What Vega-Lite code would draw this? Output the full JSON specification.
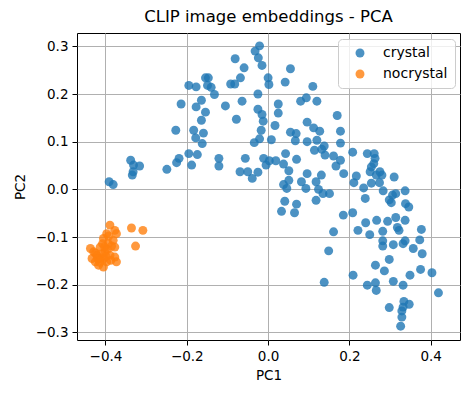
{
  "$schema": "https://vega.github.io/schema/vega-lite/v6.json",
  "width": 383,
  "height": 307,
  "autosize": {"type": "none"},
  "padding": {"left": 77, "top": 33, "right": 10, "bottom": 53},
  "background": "white",
  "title": {"text": "CLIP image embeddings - PCA", "fontSize": 16.5, "fontWeight": "normal", "font": "DejaVu Sans", "color": "black", "offset": 8},
  "config": {
    "font": "DejaVu Sans",
    "view": {"stroke": "black", "strokeWidth": 1},
    "axis": {"gridColor": "#b0b0b0", "gridWidth": 1, "gridOpacity": 1, "domain": false, "tickColor": "black", "tickSize": 5, "labelFontSize": 13.5, "labelColor": "black", "titleFontSize": 13.5, "titleFontWeight": "normal", "titleColor": "black", "labelPadding": 4}
  },
  "data": {"values": [
    {"pc1": -0.195, "pc2": 0.218, "label": "crystal"},
    {"pc1": -0.177, "pc2": 0.215, "label": "crystal"},
    {"pc1": -0.214, "pc2": 0.179, "label": "crystal"},
    {"pc1": -0.177, "pc2": 0.173, "label": "crystal"},
    {"pc1": -0.164, "pc2": 0.187, "label": "crystal"},
    {"pc1": -0.154, "pc2": 0.162, "label": "crystal"},
    {"pc1": -0.164, "pc2": 0.145, "label": "crystal"},
    {"pc1": -0.227, "pc2": 0.124, "label": "crystal"},
    {"pc1": -0.183, "pc2": 0.124, "label": "crystal"},
    {"pc1": -0.178, "pc2": 0.108, "label": "crystal"},
    {"pc1": -0.159, "pc2": 0.118, "label": "crystal"},
    {"pc1": -0.154, "pc2": 0.234, "label": "crystal"},
    {"pc1": -0.021, "pc2": 0.301, "label": "crystal"},
    {"pc1": -0.032, "pc2": 0.290, "label": "crystal"},
    {"pc1": -0.024, "pc2": 0.276, "label": "crystal"},
    {"pc1": -0.015, "pc2": 0.260, "label": "crystal"},
    {"pc1": -0.081, "pc2": 0.274, "label": "crystal"},
    {"pc1": -0.059, "pc2": 0.255, "label": "crystal"},
    {"pc1": 0.055, "pc2": 0.253, "label": "crystal"},
    {"pc1": -0.068, "pc2": 0.234, "label": "crystal"},
    {"pc1": 0.000, "pc2": 0.234, "label": "crystal"},
    {"pc1": 0.002, "pc2": 0.220, "label": "crystal"},
    {"pc1": 0.042, "pc2": 0.225, "label": "crystal"},
    {"pc1": -0.147, "pc2": 0.234, "label": "crystal"},
    {"pc1": -0.092, "pc2": 0.221, "label": "crystal"},
    {"pc1": -0.082, "pc2": 0.221, "label": "crystal"},
    {"pc1": -0.149, "pc2": 0.218, "label": "crystal"},
    {"pc1": -0.140, "pc2": 0.214, "label": "crystal"},
    {"pc1": -0.132, "pc2": 0.199, "label": "crystal"},
    {"pc1": -0.025, "pc2": 0.200, "label": "crystal"},
    {"pc1": 0.110, "pc2": 0.216, "label": "crystal"},
    {"pc1": 0.094, "pc2": 0.192, "label": "crystal"},
    {"pc1": 0.080, "pc2": 0.185, "label": "crystal"},
    {"pc1": 0.120, "pc2": 0.185, "label": "crystal"},
    {"pc1": -0.105, "pc2": 0.175, "label": "crystal"},
    {"pc1": -0.064, "pc2": 0.185, "label": "crystal"},
    {"pc1": 0.025, "pc2": 0.179, "label": "crystal"},
    {"pc1": -0.025, "pc2": 0.168, "label": "crystal"},
    {"pc1": -0.015, "pc2": 0.157, "label": "crystal"},
    {"pc1": 0.025, "pc2": 0.160, "label": "crystal"},
    {"pc1": -0.078, "pc2": 0.147, "label": "crystal"},
    {"pc1": -0.012, "pc2": 0.143, "label": "crystal"},
    {"pc1": 0.017, "pc2": 0.134, "label": "crystal"},
    {"pc1": 0.096, "pc2": 0.141, "label": "crystal"},
    {"pc1": 0.055, "pc2": 0.120, "label": "crystal"},
    {"pc1": 0.069, "pc2": 0.117, "label": "crystal"},
    {"pc1": 0.112, "pc2": 0.129, "label": "crystal"},
    {"pc1": 0.127, "pc2": 0.122, "label": "crystal"},
    {"pc1": -0.017, "pc2": 0.124, "label": "crystal"},
    {"pc1": -0.021, "pc2": 0.106, "label": "crystal"},
    {"pc1": 0.008, "pc2": 0.104, "label": "crystal"},
    {"pc1": -0.034, "pc2": 0.098, "label": "crystal"},
    {"pc1": 0.067, "pc2": 0.102, "label": "crystal"},
    {"pc1": 0.096, "pc2": 0.100, "label": "crystal"},
    {"pc1": 0.120, "pc2": 0.103, "label": "crystal"},
    {"pc1": 0.138, "pc2": 0.091, "label": "crystal"},
    {"pc1": 0.170, "pc2": 0.155, "label": "crystal"},
    {"pc1": 0.178, "pc2": 0.122, "label": "crystal"},
    {"pc1": 0.178, "pc2": 0.097, "label": "crystal"},
    {"pc1": -0.338, "pc2": 0.061, "label": "crystal"},
    {"pc1": -0.331, "pc2": 0.051, "label": "crystal"},
    {"pc1": -0.316, "pc2": 0.049, "label": "crystal"},
    {"pc1": -0.332, "pc2": 0.037, "label": "crystal"},
    {"pc1": -0.334, "pc2": 0.030, "label": "crystal"},
    {"pc1": -0.391, "pc2": 0.016, "label": "crystal"},
    {"pc1": -0.381, "pc2": 0.010, "label": "crystal"},
    {"pc1": -0.249, "pc2": 0.042, "label": "crystal"},
    {"pc1": -0.225, "pc2": 0.056, "label": "crystal"},
    {"pc1": -0.219, "pc2": 0.065, "label": "crystal"},
    {"pc1": -0.195, "pc2": 0.075, "label": "crystal"},
    {"pc1": -0.174, "pc2": 0.073, "label": "crystal"},
    {"pc1": -0.188, "pc2": 0.051, "label": "crystal"},
    {"pc1": -0.162, "pc2": 0.096, "label": "crystal"},
    {"pc1": -0.121, "pc2": 0.065, "label": "crystal"},
    {"pc1": -0.121, "pc2": 0.049, "label": "crystal"},
    {"pc1": -0.056, "pc2": 0.065, "label": "crystal"},
    {"pc1": -0.069, "pc2": 0.037, "label": "crystal"},
    {"pc1": -0.050, "pc2": 0.037, "label": "crystal"},
    {"pc1": -0.039, "pc2": 0.023, "label": "crystal"},
    {"pc1": -0.025, "pc2": 0.036, "label": "crystal"},
    {"pc1": -0.011, "pc2": 0.065, "label": "crystal"},
    {"pc1": -0.005, "pc2": 0.051, "label": "crystal"},
    {"pc1": 0.003, "pc2": 0.060, "label": "crystal"},
    {"pc1": 0.019, "pc2": 0.060, "label": "crystal"},
    {"pc1": 0.043, "pc2": 0.075, "label": "crystal"},
    {"pc1": 0.070, "pc2": 0.063, "label": "crystal"},
    {"pc1": 0.038, "pc2": 0.053, "label": "crystal"},
    {"pc1": 0.051, "pc2": 0.039, "label": "crystal"},
    {"pc1": 0.096, "pc2": 0.033, "label": "crystal"},
    {"pc1": 0.131, "pc2": 0.030, "label": "crystal"},
    {"pc1": 0.051, "pc2": 0.019, "label": "crystal"},
    {"pc1": 0.038, "pc2": 0.010, "label": "crystal"},
    {"pc1": 0.046, "pc2": 0.002, "label": "crystal"},
    {"pc1": 0.082, "pc2": 0.016, "label": "crystal"},
    {"pc1": 0.093, "pc2": 0.002, "label": "crystal"},
    {"pc1": 0.118, "pc2": 0.016, "label": "crystal"},
    {"pc1": 0.124, "pc2": 0.000, "label": "crystal"},
    {"pc1": 0.135, "pc2": -0.009, "label": "crystal"},
    {"pc1": 0.118, "pc2": -0.023, "label": "crystal"},
    {"pc1": 0.041, "pc2": -0.025, "label": "crystal"},
    {"pc1": 0.070, "pc2": -0.031, "label": "crystal"},
    {"pc1": 0.033, "pc2": -0.046, "label": "crystal"},
    {"pc1": 0.065, "pc2": -0.049, "label": "crystal"},
    {"pc1": 0.114, "pc2": 0.082, "label": "crystal"},
    {"pc1": 0.132, "pc2": 0.084, "label": "crystal"},
    {"pc1": 0.140, "pc2": 0.072, "label": "crystal"},
    {"pc1": 0.161, "pc2": 0.070, "label": "crystal"},
    {"pc1": 0.178, "pc2": 0.061, "label": "crystal"},
    {"pc1": 0.167, "pc2": 0.049, "label": "crystal"},
    {"pc1": 0.208, "pc2": 0.078, "label": "crystal"},
    {"pc1": 0.244, "pc2": 0.075, "label": "crystal"},
    {"pc1": 0.261, "pc2": 0.075, "label": "crystal"},
    {"pc1": 0.263, "pc2": 0.065, "label": "crystal"},
    {"pc1": 0.260, "pc2": 0.054, "label": "crystal"},
    {"pc1": 0.254, "pc2": 0.047, "label": "crystal"},
    {"pc1": 0.251, "pc2": 0.037, "label": "crystal"},
    {"pc1": 0.275, "pc2": 0.037, "label": "crystal"},
    {"pc1": 0.280, "pc2": 0.030, "label": "crystal"},
    {"pc1": 0.266, "pc2": 0.030, "label": "crystal"},
    {"pc1": 0.217, "pc2": 0.028, "label": "crystal"},
    {"pc1": 0.211, "pc2": 0.014, "label": "crystal"},
    {"pc1": 0.186, "pc2": 0.033, "label": "crystal"},
    {"pc1": 0.254, "pc2": 0.013, "label": "crystal"},
    {"pc1": 0.274, "pc2": 0.014, "label": "crystal"},
    {"pc1": 0.310, "pc2": 0.026, "label": "crystal"},
    {"pc1": 0.235, "pc2": 0.003, "label": "crystal"},
    {"pc1": 0.283, "pc2": -0.003, "label": "crystal"},
    {"pc1": 0.337, "pc2": -0.003, "label": "crystal"},
    {"pc1": 0.151, "pc2": -0.009, "label": "crystal"},
    {"pc1": 0.239, "pc2": -0.019, "label": "crystal"},
    {"pc1": 0.306, "pc2": -0.012, "label": "crystal"},
    {"pc1": 0.314, "pc2": -0.009, "label": "crystal"},
    {"pc1": 0.298, "pc2": -0.022, "label": "crystal"},
    {"pc1": 0.303, "pc2": -0.028, "label": "crystal"},
    {"pc1": 0.338, "pc2": -0.030, "label": "crystal"},
    {"pc1": 0.346, "pc2": -0.037, "label": "crystal"},
    {"pc1": 0.208, "pc2": -0.049, "label": "crystal"},
    {"pc1": 0.185, "pc2": -0.054, "label": "crystal"},
    {"pc1": 0.314, "pc2": -0.059, "label": "crystal"},
    {"pc1": 0.267, "pc2": -0.065, "label": "crystal"},
    {"pc1": 0.294, "pc2": -0.067, "label": "crystal"},
    {"pc1": 0.337, "pc2": -0.065, "label": "crystal"},
    {"pc1": 0.240, "pc2": -0.070, "label": "crystal"},
    {"pc1": 0.318, "pc2": -0.080, "label": "crystal"},
    {"pc1": 0.322, "pc2": -0.086, "label": "crystal"},
    {"pc1": 0.221, "pc2": -0.086, "label": "crystal"},
    {"pc1": 0.282, "pc2": -0.088, "label": "crystal"},
    {"pc1": 0.377, "pc2": -0.084, "label": "crystal"},
    {"pc1": 0.161, "pc2": -0.089, "label": "crystal"},
    {"pc1": 0.250, "pc2": -0.095, "label": "crystal"},
    {"pc1": 0.282, "pc2": -0.108, "label": "crystal"},
    {"pc1": 0.282, "pc2": -0.119, "label": "crystal"},
    {"pc1": 0.308, "pc2": -0.116, "label": "crystal"},
    {"pc1": 0.332, "pc2": -0.114, "label": "crystal"},
    {"pc1": 0.337, "pc2": -0.108, "label": "crystal"},
    {"pc1": 0.373, "pc2": -0.106, "label": "crystal"},
    {"pc1": 0.357, "pc2": -0.124, "label": "crystal"},
    {"pc1": 0.149, "pc2": -0.129, "label": "crystal"},
    {"pc1": 0.379, "pc2": -0.135, "label": "crystal"},
    {"pc1": 0.298, "pc2": -0.147, "label": "crystal"},
    {"pc1": 0.264, "pc2": -0.159, "label": "crystal"},
    {"pc1": 0.286, "pc2": -0.171, "label": "crystal"},
    {"pc1": 0.375, "pc2": -0.168, "label": "crystal"},
    {"pc1": 0.403, "pc2": -0.175, "label": "crystal"},
    {"pc1": 0.349, "pc2": -0.180, "label": "crystal"},
    {"pc1": 0.209, "pc2": -0.180, "label": "crystal"},
    {"pc1": 0.138, "pc2": -0.195, "label": "crystal"},
    {"pc1": 0.244, "pc2": -0.201, "label": "crystal"},
    {"pc1": 0.264, "pc2": -0.196, "label": "crystal"},
    {"pc1": 0.266, "pc2": -0.212, "label": "crystal"},
    {"pc1": 0.308, "pc2": -0.193, "label": "crystal"},
    {"pc1": 0.332, "pc2": -0.201, "label": "crystal"},
    {"pc1": 0.419, "pc2": -0.217, "label": "crystal"},
    {"pc1": 0.298, "pc2": -0.248, "label": "crystal"},
    {"pc1": 0.334, "pc2": -0.235, "label": "crystal"},
    {"pc1": 0.347, "pc2": -0.241, "label": "crystal"},
    {"pc1": 0.332, "pc2": -0.247, "label": "crystal"},
    {"pc1": 0.329, "pc2": -0.255, "label": "crystal"},
    {"pc1": 0.329, "pc2": -0.268, "label": "crystal"},
    {"pc1": 0.326, "pc2": -0.287, "label": "crystal"},
    {"pc1": -0.389, "pc2": -0.075, "label": "nocrystal"},
    {"pc1": -0.377, "pc2": -0.086, "label": "nocrystal"},
    {"pc1": -0.373, "pc2": -0.093, "label": "nocrystal"},
    {"pc1": -0.336, "pc2": -0.081, "label": "nocrystal"},
    {"pc1": -0.308, "pc2": -0.086, "label": "nocrystal"},
    {"pc1": -0.326, "pc2": -0.119, "label": "nocrystal"},
    {"pc1": -0.397, "pc2": -0.093, "label": "nocrystal"},
    {"pc1": -0.405, "pc2": -0.103, "label": "nocrystal"},
    {"pc1": -0.407, "pc2": -0.114, "label": "nocrystal"},
    {"pc1": -0.393, "pc2": -0.114, "label": "nocrystal"},
    {"pc1": -0.381, "pc2": -0.107, "label": "nocrystal"},
    {"pc1": -0.377, "pc2": -0.121, "label": "nocrystal"},
    {"pc1": -0.437, "pc2": -0.124, "label": "nocrystal"},
    {"pc1": -0.429, "pc2": -0.131, "label": "nocrystal"},
    {"pc1": -0.421, "pc2": -0.138, "label": "nocrystal"},
    {"pc1": -0.413, "pc2": -0.145, "label": "nocrystal"},
    {"pc1": -0.433, "pc2": -0.145, "label": "nocrystal"},
    {"pc1": -0.417, "pc2": -0.159, "label": "nocrystal"},
    {"pc1": -0.405, "pc2": -0.163, "label": "nocrystal"},
    {"pc1": -0.377, "pc2": -0.142, "label": "nocrystal"},
    {"pc1": -0.373, "pc2": -0.152, "label": "nocrystal"},
    {"pc1": -0.397, "pc2": -0.152, "label": "nocrystal"},
    {"pc1": -0.401, "pc2": -0.131, "label": "nocrystal"},
    {"pc1": -0.413, "pc2": -0.121, "label": "nocrystal"},
    {"pc1": -0.425, "pc2": -0.152, "label": "nocrystal"},
    {"pc1": -0.389, "pc2": -0.138, "label": "nocrystal"},
    {"pc1": -0.409, "pc2": -0.135, "label": "nocrystal"},
    {"pc1": -0.402, "pc2": -0.121, "label": "nocrystal"},
    {"pc1": -0.395, "pc2": -0.126, "label": "nocrystal"},
    {"pc1": -0.424, "pc2": -0.134, "label": "nocrystal"},
    {"pc1": -0.414, "pc2": -0.153, "label": "nocrystal"},
    {"pc1": -0.404, "pc2": -0.145, "label": "nocrystal"},
    {"pc1": -0.387, "pc2": -0.149, "label": "nocrystal"},
    {"pc1": -0.399, "pc2": -0.140, "label": "nocrystal"},
    {"pc1": -0.419, "pc2": -0.145, "label": "nocrystal"},
    {"pc1": -0.392, "pc2": -0.098, "label": "nocrystal"},
    {"pc1": -0.385, "pc2": -0.119, "label": "nocrystal"}
  ]},
  "mark": {"type": "circle", "size": 80, "opacity": 0.8},
  "encoding": {
    "x": {"field": "pc1", "type": "quantitative", "title": "PC1",
          "scale": {"domain": [-0.47, 0.472], "nice": false, "zero": false},
          "axis": {"values": [-0.4, -0.2, 0, 0.2, 0.4], "format": ".1f", "titlePadding": 6}},
    "y": {"field": "pc2", "type": "quantitative", "title": "PC2",
          "scale": {"domain": [-0.316, 0.328], "nice": false, "zero": false},
          "axis": {"values": [-0.3, -0.2, -0.1, 0, 0.1, 0.2, 0.3], "format": ".1f", "titlePadding": 8}},
    "color": {"field": "label", "type": "nominal",
              "scale": {"domain": ["crystal", "nocrystal"], "range": ["#1f77b4", "#ff7f0e"]},
              "legend": {"title": null, "orient": "none", "legendX": 261, "legendY": 6,
                         "fillColor": "rgba(255,255,255,0.8)", "strokeColor": "#cccccc", "cornerRadius": 4,
                         "padding": 7, "symbolOffset": 8, "symbolSize": 80, "symbolOpacity": 0.8,
                         "labelFontSize": 14, "labelOffset": 16, "rowPadding": 7, "labelColor": "black"}}
  }
}
